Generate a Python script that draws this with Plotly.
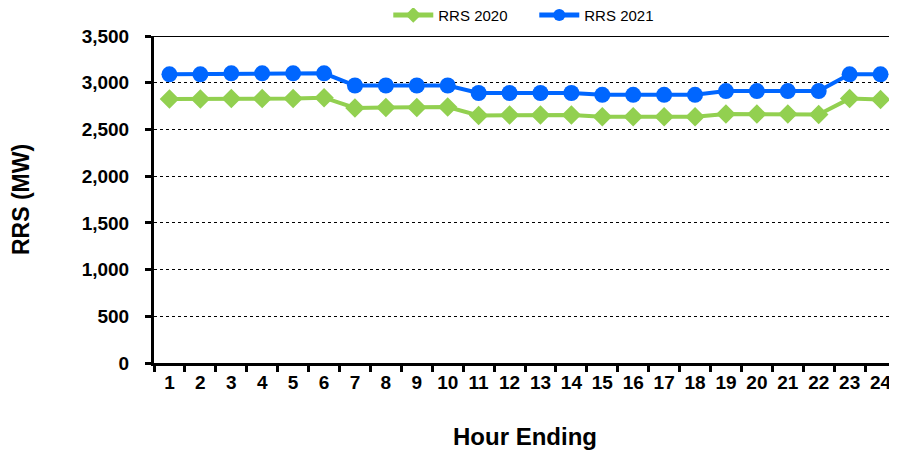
import plotly.graph_objects as go

hours = [str(h) for h in range(1, 25)]
rrs_2020 = [2825, 2825, 2830, 2830, 2830, 2840, 2730, 2735, 2735, 2740, 2650, 2655,
            2655, 2655, 2635, 2635, 2635, 2635, 2665, 2665, 2665, 2660, 2830, 2820]
rrs_2021 = [3090, 3090, 3100, 3100, 3100, 3100, 2970, 2970, 2970, 2970, 2890, 2890,
            2890, 2890, 2870, 2870, 2870, 2870, 2910, 2910, 2910, 2910, 3090, 3090]
y_ticks = [0, 500, 1000, 1500, 2000, 2500, 3000, 3500]

fig = go.Figure()
fig.add_trace(go.Scatter(x=hours, y=rrs_2020, name="RRS 2020", mode="lines+markers",
                         line=dict(color="#92D050", width=4),
                         marker=dict(symbol="diamond", size=15, color="#92D050")))
fig.add_trace(go.Scatter(x=hours, y=rrs_2021, name="RRS 2021", mode="lines+markers",
                         line=dict(color="#0066FF", width=4),
                         marker=dict(symbol="circle", size=16, color="#0066FF")))

fig.update_layout(
    width=889, height=446,
    margin=dict(l=146, r=1, t=28, b=91, autoexpand=False),
    paper_bgcolor="white", plot_bgcolor="white",
    font=dict(family="Liberation Sans, Arial, sans-serif", color="black"),
    legend=dict(orientation="h", x=0.592, xanchor="center", xref="container",
                y=0.984, yanchor="middle", yref="container",
                font=dict(size=15), itemwidth=40, itemsizing="constant",
                entrywidth=91, entrywidthmode="pixels"),
    xaxis=dict(type="category", range=[-0.5, 23.5], tickson="boundaries",
               ticks="outside", ticklen=6,
               tickwidth=3, tickcolor="black", showline=True, linecolor="black",
               linewidth=3, showgrid=False, tickangle=0, automargin=False,
               tickfont=dict(size=19, weight="bold"),
               title=dict(text="<b>Hour Ending</b>", font=dict(size=24), standoff=37)),
    yaxis=dict(range=[0, 3500], tickvals=y_ticks, ticks="outside", ticklen=6,
               tickwidth=3, tickcolor="black", showline=True, linecolor="black",
               linewidth=3, showgrid=True, gridcolor="black", gridwidth=1,
               griddash="dot", tickformat=",", zeroline=False, automargin=False,
               ticklabelstandoff=12,
               tickfont=dict(size=19, weight="bold"),
               title=dict(text="<b>RRS (MW)</b>", font=dict(size=23), standoff=47)),
)
fig.add_shape(type="line", xref="paper", yref="y", x0=0, x1=1, y0=3500, y1=3500,
              line=dict(color="black", width=2))
fig.add_shape(type="line", xref="paper", yref="paper", x0=1, x1=1, y0=0, y1=1,
              line=dict(color="#BBBBBB", width=1))
fig.write_html("out.html")
